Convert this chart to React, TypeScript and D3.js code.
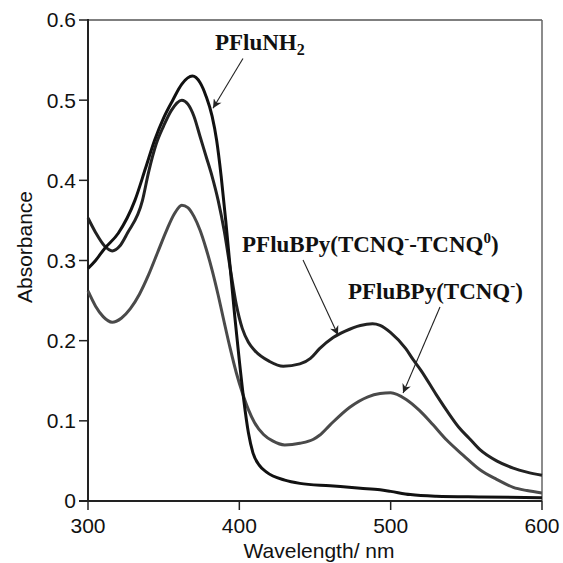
import React from "react";
import * as d3 from "d3";

const pfluNH2: [number, number][] = [
  [300, 0.29], [305, 0.3], [311, 0.315], [320, 0.334], [331, 0.375], [338, 0.415],
  [344, 0.45], [350, 0.478], [356, 0.5], [362, 0.52], [369, 0.53], [374, 0.522],
  [378, 0.505], [382, 0.48], [385, 0.45], [388, 0.405], [391, 0.35], [394, 0.29],
  [397, 0.23], [400, 0.175], [403, 0.125], [406, 0.085], [409, 0.06], [413, 0.045],
  [418, 0.036], [430, 0.026], [440, 0.022], [460, 0.019], [480, 0.016], [493, 0.014],
  [500, 0.012], [513, 0.008], [530, 0.006], [560, 0.005], [600, 0.004],
];

const pfluBPyMixed: [number, number][] = [
  [300, 0.353], [305, 0.335], [311, 0.318], [316, 0.312], [321, 0.318], [326, 0.334],
  [336, 0.375], [340, 0.41], [345, 0.445], [350, 0.468], [355, 0.487], [362, 0.5],
  [366, 0.495], [370, 0.48], [374, 0.455], [378, 0.43], [382, 0.405], [386, 0.375],
  [390, 0.337], [394, 0.29], [398, 0.245], [402, 0.215], [406, 0.198], [410, 0.188],
  [420, 0.174], [429, 0.168], [440, 0.171], [447, 0.178], [453, 0.19], [462, 0.204],
  [470, 0.212], [480, 0.219], [488, 0.221], [493, 0.219], [500, 0.21], [510, 0.19],
  [515, 0.176], [520, 0.163], [530, 0.133], [537, 0.113], [545, 0.092], [552, 0.078],
  [559, 0.064], [570, 0.05], [581, 0.041], [590, 0.036], [600, 0.032],
];

const pfluBPyAnion: [number, number][] = [
  [300, 0.262], [305, 0.243], [310, 0.23], [316, 0.223], [322, 0.228], [328, 0.24],
  [334, 0.258], [340, 0.282], [346, 0.31], [352, 0.338], [357, 0.358], [362, 0.369],
  [366, 0.366], [370, 0.355], [374, 0.338], [378, 0.315], [382, 0.288], [386, 0.257],
  [390, 0.223], [394, 0.19], [398, 0.16], [402, 0.135], [406, 0.114], [410, 0.098],
  [416, 0.083], [422, 0.075], [430, 0.07], [440, 0.072], [449, 0.077], [453, 0.082],
  [460, 0.095], [473, 0.117], [485, 0.13], [493, 0.134], [500, 0.135], [510, 0.127],
  [519, 0.113], [528, 0.095], [537, 0.076], [548, 0.057], [559, 0.039], [570, 0.027],
  [581, 0.017], [590, 0.013], [600, 0.01],
];

const xTicks = [300, 400, 500, 600];
const yTicks = [0, 0.1, 0.2, 0.3, 0.4, 0.5, 0.6];
const yTickLabels = ["0", "0.1", "0.2", "0.3", "0.4", "0.5", "0.6"];

// annotations in data units: label anchor, arrow start, arrow tip
const annoPfluNH2 = { label: [383.9, 0.5624], from: [402.4, 0.552], to: [382.6, 0.49] };
const annoMixed = { label: [401.8, 0.3105], from: [442.1, 0.3005], to: [465.2, 0.207] };
const annoAnion = { label: [471.8, 0.2519], from: [532.6, 0.2419], to: [508.2, 0.1347] };

const W = 563;
const H = 563;
const left = 88, right = 542, top = 20, bottom = 501;

export default function App() {
  const x = d3.scaleLinear().domain([300, 600]).range([left, right]);
  const y = d3.scaleLinear().domain([0, 0.6]).range([bottom, top]);
  const line = d3
    .line<[number, number]>()
    .x((d) => x(d[0]))
    .y((d) => y(d[1]))
    .curve(d3.curveMonotoneX);

  const serif = "'Liberation Serif', 'Times New Roman', serif";
  const sans = "'Liberation Sans', Arial, Helvetica, sans-serif";

  const arrow = (a: { from: number[]; to: number[] }, id: string) => (
    <line
      key={id}
      x1={x(a.from[0])}
      y1={y(a.from[1])}
      x2={x(a.to[0])}
      y2={y(a.to[1])}
      stroke="#222"
      strokeWidth={1.1}
      markerEnd="url(#arrowhead)"
    />
  );

  return (
    <svg
      width={W}
      height={H}
      style={{ position: "absolute", left: 0, top: 0, background: "#fff" }}
    >
      <defs>
        <marker
          id="arrowhead"
          viewBox="0 0 10 10"
          refX="10"
          refY="5"
          markerWidth="12"
          markerHeight="9"
          markerUnits="userSpaceOnUse"
          orient="auto"
        >
          <path d="M0,0 L10,5 L0,10 L3,5 Z" fill="#222" />
        </marker>
      </defs>
      <rect x={0} y={0} width={W} height={H} fill="#fff" />

      {/* frame */}
      <line x1={left} y1={top} x2={right} y2={top} stroke="#555" strokeWidth={1.5} />
      <line x1={right} y1={top} x2={right} y2={bottom} stroke="#666" strokeWidth={1.5} />
      <line x1={left} y1={top - 1} x2={left} y2={bottom} stroke="#222" strokeWidth={2} />
      <line x1={left - 9} y1={bottom} x2={right} y2={bottom} stroke="#222" strokeWidth={2} />

      {/* y ticks */}
      {yTicks.map((t, i) => (
        <g key={"y" + t}>
          <line x1={left - 9} x2={left} y1={y(t)} y2={y(t)} stroke="#222" strokeWidth={1.5} />
          <text
            x={left - 12}
            y={y(t)}
            dy="0.35em"
            textAnchor="end"
            fontFamily={sans}
            fontSize={21}
            fill="#111"
          >
            {yTickLabels[i]}
          </text>
        </g>
      ))}

      {/* x ticks */}
      {xTicks.map((t) => (
        <g key={"x" + t}>
          <line x1={x(t)} x2={x(t)} y1={bottom} y2={bottom + 9} stroke="#222" strokeWidth={1.5} />
          <text
            x={x(t)}
            y={533}
            textAnchor="middle"
            fontFamily={sans}
            fontSize={21}
            fill="#111"
          >
            {t}
          </text>
        </g>
      ))}

      <text
        x={(left + right) / 2 + 4}
        y={558}
        textAnchor="middle"
        fontFamily={sans}
        fontSize={21}
        fill="#111"
      >
        Wavelength/ nm
      </text>
      <text
        transform={`translate(32,${247}) rotate(-90)`}
        textAnchor="middle"
        fontFamily={sans}
        fontSize={21}
        fill="#111"
      >
        Absorbance
      </text>

      {/* curves */}
      <path d={line(pfluBPyAnion) || ""} fill="none" stroke="#4a4a4a" strokeWidth={3} />
      <path d={line(pfluBPyMixed) || ""} fill="none" stroke="#222" strokeWidth={3} />
      <path d={line(pfluNH2) || ""} fill="none" stroke="#111" strokeWidth={3} />

      {/* annotations */}
      {arrow(annoPfluNH2, "a1")}
      {arrow(annoMixed, "a2")}
      {arrow(annoAnion, "a3")}

      <text
        x={x(annoPfluNH2.label[0])}
        y={y(annoPfluNH2.label[1])}
        fontFamily={serif}
        fontWeight="bold"
        fontSize={23}
        fill="#111"
      >
        PFluNH<tspan fontSize={16} dy={5}>2</tspan>
      </text>
      <text
        x={x(annoMixed.label[0])}
        y={y(annoMixed.label[1])}
        fontFamily={serif}
        fontWeight="bold"
        fontSize={23}
        fill="#111"
      >
        PFluBPy(TCNQ<tspan fontSize={15} dy={-9}>-</tspan>
        <tspan dy={9}>-TCNQ</tspan>
        <tspan fontSize={15} dy={-9}>0</tspan>
        <tspan dy={9}>)</tspan>
      </text>
      <text
        x={x(annoAnion.label[0])}
        y={y(annoAnion.label[1])}
        fontFamily={serif}
        fontWeight="bold"
        fontSize={23}
        fill="#111"
      >
        PFluBPy(TCNQ<tspan fontSize={15} dy={-9}>-</tspan>
        <tspan dy={9}>)</tspan>
      </text>
    </svg>
  );
}
